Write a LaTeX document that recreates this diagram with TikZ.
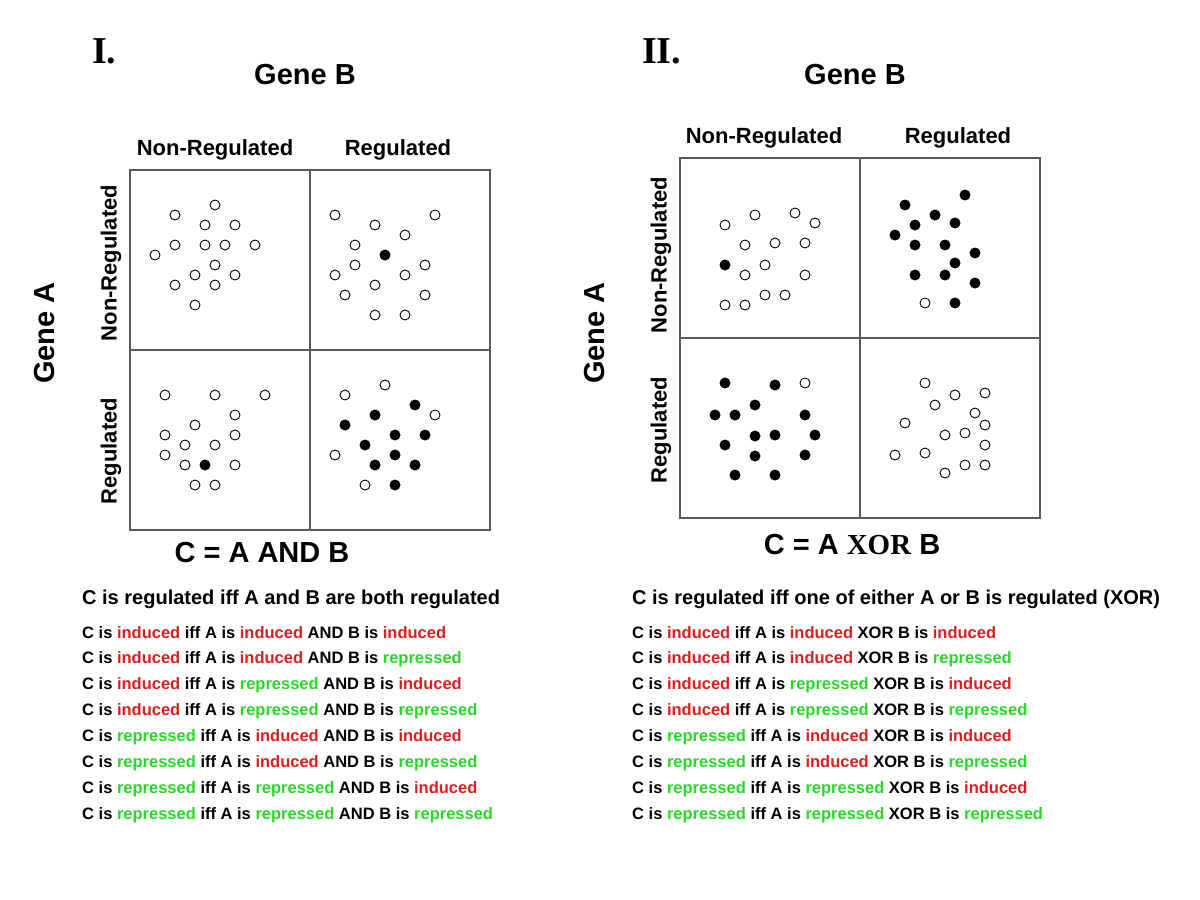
\documentclass[tikz,border=0pt]{standalone}
\usepackage{fontspec}
\setmainfont{Liberation Sans}
\newfontfamily\timesfont{Liberation Serif}
\definecolor{indred}{RGB}{220,30,30}
\definecolor{repgreen}{RGB}{40,215,40}
\definecolor{gridgray}{RGB}{90,90,90}
\newcommand\myind{\textcolor{indred}{induced}}
\newcommand\myrep{\textcolor{repgreen}{repressed}}
\newcommand\ruleline[4]{C is #2 iff A is #3 #1 B is #4}
\tikzset{
  every node/.style={inner sep=0pt, font=\bfseries},
  roman/.style={font=\timesfont\bfseries\fontsize{38}{42}\selectfont, anchor=west},
  gene/.style={font=\bfseries\fontsize{29}{32}\selectfont},
  colhead/.style={font=\bfseries\fontsize{22}{26}\selectfont},
  eqn/.style={font=\bfseries\fontsize{29}{32}\selectfont},
  summary/.style={font=\bfseries\fontsize{20}{23}\selectfont, anchor=west},
  rule/.style={font=\bfseries\fontsize{16.5}{20}\selectfont, anchor=west},
  gridbox/.style={draw=gridgray, line width=1.3pt},
  gridline/.style={draw=gridgray, line width=1.3pt},
  opendot/.style={draw=black, line width=0.9pt, fill=white},
  filldot/.style={fill=black},
}
\begin{document}
\begin{tikzpicture}[x=1pt,y=-1pt]
\useasboundingbox[fill=white] (0,0) rectangle (1200,900);

% ---------------- Panel I ----------------
\node[roman] (romI) at (92,51) {I.};
\node[gene] (geneBI) at (305,75) {Gene B};
\node[colhead] (nrI) at (215,150) {Non-Regulated};
\node[colhead] (rI) at (398,150) {Regulated};
\node[gene, rotate=90] (geneAI) at (45,333) {Gene A};
\node[colhead, rotate=90] (rnrI) at (111,263) {Non-Regulated};
\node[colhead, rotate=90] (rrI) at (111,451) {Regulated};
\draw[gridbox] (130,170) rectangle (490,530);
\draw[gridline] (310,170) -- (310,530);
\draw[gridline] (130,350) -- (490,350);
\node[eqn] (eqI) at (262,553) {C = A AND B};
\node[summary] (sumI) at (82,599) {C is regulated iff A and B are both regulated};
\node[rule] (rI1) at (82,633) {\ruleline{AND}{\myind}{\myind}{\myind}};
\node[rule] (rI2) at (82,659) {\ruleline{AND}{\myind}{\myind}{\myrep}};
\node[rule] (rI3) at (82,685) {\ruleline{AND}{\myind}{\myrep}{\myind}};
\node[rule] (rI4) at (82,711) {\ruleline{AND}{\myind}{\myrep}{\myrep}};
\node[rule] (rI5) at (82,737) {\ruleline{AND}{\myrep}{\myind}{\myind}};
\node[rule] (rI6) at (82,763) {\ruleline{AND}{\myrep}{\myind}{\myrep}};
\node[rule] (rI7) at (82,789) {\ruleline{AND}{\myrep}{\myrep}{\myind}};
\node[rule] (rI8) at (82,815) {\ruleline{AND}{\myrep}{\myrep}{\myrep}};

% dots I top-left
\foreach \x/\y in {215/205,175/215,205/225,235/225,175/245,205/245,225/245,255/245,155/255,215/265,195/275,235/275,175/285,215/285,195/305}
  \draw[opendot] (\x,\y) circle[radius=5pt];
% dots I top-right
\foreach \x/\y in {335/215,435/215,375/225,405/235,355/245,355/265,425/265,335/275,405/275,375/285,345/295,425/295,375/315,405/315}
  \draw[opendot] (\x,\y) circle[radius=5pt];
\fill[filldot] (385,255) circle[radius=5.5pt];
% dots I bottom-left
\foreach \x/\y in {165/395,215/395,265/395,235/415,195/425,165/435,235/435,185/445,215/445,165/455,185/465,235/465,195/485,215/485}
  \draw[opendot] (\x,\y) circle[radius=5pt];
\fill[filldot] (205,465) circle[radius=5.5pt];
% dots I bottom-right
\foreach \x/\y in {385/385,345/395,435/415,335/455,365/485}
  \draw[opendot] (\x,\y) circle[radius=5pt];
\foreach \x/\y in {415/405,375/415,345/425,395/435,425/435,365/445,395/455,375/465,415/465,395/485}
  \fill[filldot] (\x,\y) circle[radius=5.5pt];

% ---------------- Panel II ----------------
\node[roman] (romII) at (642,51) {II.};
\node[gene] (geneBII) at (855,75) {Gene B};
\node[colhead] (nrII) at (764,138) {Non-Regulated};
\node[colhead] (rII) at (958,138) {Regulated};
\node[gene, rotate=90] (geneAII) at (595,333) {Gene A};
\node[colhead, rotate=90] (rnrII) at (661,255) {Non-Regulated};
\node[colhead, rotate=90] (rrII) at (661,430) {Regulated};
\draw[gridbox] (680,158) rectangle (1040,518);
\draw[gridline] (860,158) -- (860,518);
\draw[gridline] (680,338) -- (1040,338);
\node[eqn] (eqII) at (852,545) {C = A {\timesfont\bfseries XOR} B};
\node[summary] (sumII) at (632,599) {C is regulated iff one of either A or B is regulated (XOR)};
\node[rule] (rII1) at (632,633) {\ruleline{XOR}{\myind}{\myind}{\myind}};
\node[rule] (rII2) at (632,659) {\ruleline{XOR}{\myind}{\myind}{\myrep}};
\node[rule] (rII3) at (632,685) {\ruleline{XOR}{\myind}{\myrep}{\myind}};
\node[rule] (rII4) at (632,711) {\ruleline{XOR}{\myind}{\myrep}{\myrep}};
\node[rule] (rII5) at (632,737) {\ruleline{XOR}{\myrep}{\myind}{\myind}};
\node[rule] (rII6) at (632,763) {\ruleline{XOR}{\myrep}{\myind}{\myrep}};
\node[rule] (rII7) at (632,789) {\ruleline{XOR}{\myrep}{\myrep}{\myind}};
\node[rule] (rII8) at (632,815) {\ruleline{XOR}{\myrep}{\myrep}{\myrep}};

% dots II top-left
\foreach \x/\y in {755/215,795/213,725/225,815/223,745/245,775/243,805/243,765/265,745/275,805/275,765/295,785/295,725/305,745/305}
  \draw[opendot] (\x,\y) circle[radius=5pt];
\fill[filldot] (725,265) circle[radius=5.5pt];
% dots II top-right
\foreach \x/\y in {965/195,905/205,935/215,915/225,955/223,895/235,915/245,945/245,975/253,955/263,915/275,945/275,975/283,955/303}
  \fill[filldot] (\x,\y) circle[radius=5.5pt];
\draw[opendot] (925,303) circle[radius=5pt];
% dots II bottom-left
\foreach \x/\y in {725/383,775/385,755/405,715/415,735/415,805/415,755/436,775/435,815/435,725/445,755/456,805/455,735/475,775/475}
  \fill[filldot] (\x,\y) circle[radius=5.5pt];
\draw[opendot] (805,383) circle[radius=5pt];
% dots II bottom-right
\foreach \x/\y in {925/383,955/395,985/393,935/405,975/413,905/423,985/425,945/435,965/433,985/445,895/455,925/453,965/465,985/465,945/473}
  \draw[opendot] (\x,\y) circle[radius=5pt];
\end{tikzpicture}
\end{document}
